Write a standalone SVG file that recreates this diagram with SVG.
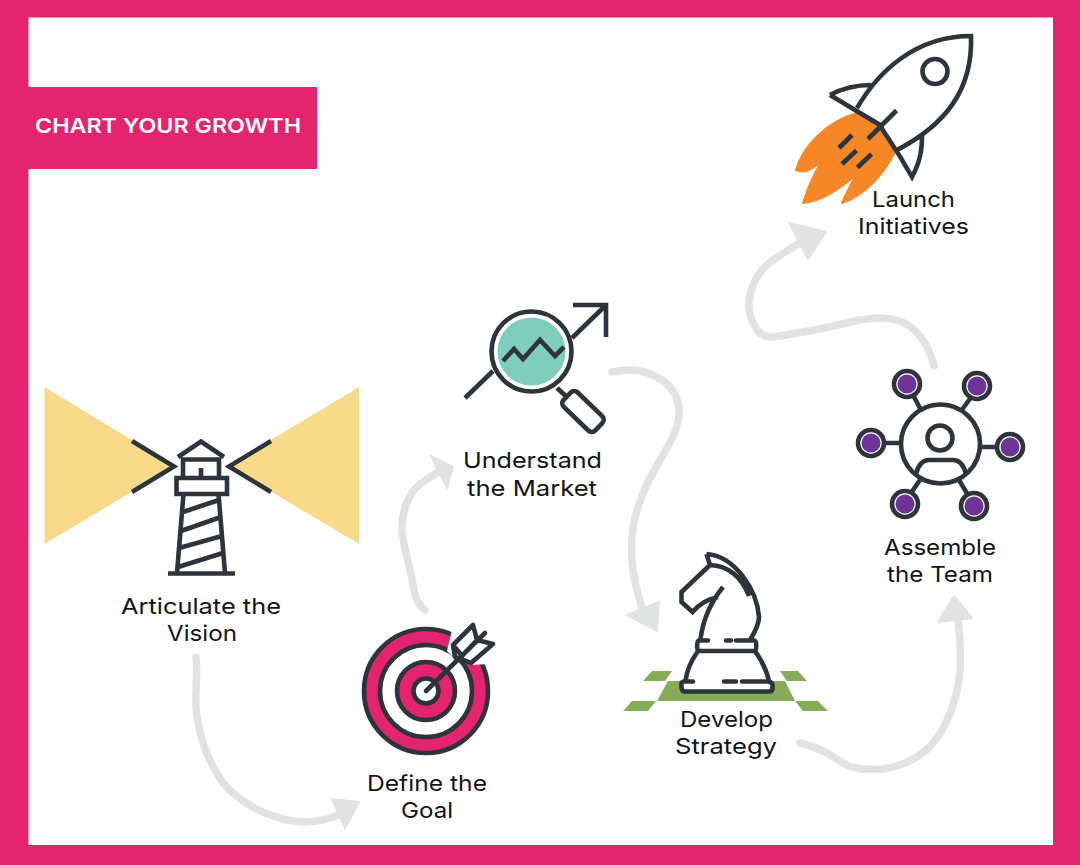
<svg xmlns="http://www.w3.org/2000/svg" width="1080" height="865" viewBox="0 0 1080 865">
<style>
.ic{fill:none;stroke:#2d343b;stroke-width:4.600;stroke-linejoin:miter;stroke-linecap:butt}
.rd{stroke-linecap:round;stroke-linejoin:round}
.lb{font-family:"Inter","Liberation Sans",sans-serif;font-size:22px;fill:#141416;text-anchor:middle}
.cn{fill:none;stroke:#e1e3e2;stroke-width:7.500;stroke-linecap:round;stroke-linejoin:round}
.hd{fill:#e1e3e2;stroke:#e1e3e2;stroke-width:2;stroke-linejoin:round}
.sat{fill:#6f3596}
.gr{fill:#85ad57}
</style>
<rect width="1080" height="865" fill="#e4246f"/>
<rect x="28.500" y="17.500" width="1024.500" height="827.500" fill="#fff"/>
<g id="title">
<rect x="0" y="87" width="317" height="82" fill="#e4246f"/>
<text x="168" y="133" font-family="Inter,'Liberation Sans',sans-serif" font-size="20.500" font-weight="600" fill="#fff" text-anchor="middle" textLength="266" lengthAdjust="spacingAndGlyphs">CHART YOUR GROWTH</text>
</g>
<g id="connectors">
<path class="cn" d="M196 657C198 672 195 692 196 707C197 725 204 756 223 783C238 801 268 820 303 822C316 822 328 820 340 814"/>
<path class="hd" d="M332 799L359 802L345 828Z"/>
<path class="cn" d="M425 610C418 604 415 598 413 585C411 570 404 550 402 532C401 515 407 498 415 489C423 481 431 476 442 470"/>
<path class="hd" d="M431 456L453 467L447 488Z"/>
<path class="cn" d="M612 372C625 369 640 369 653 375C670 383 680 396 679 415C678 430 669 445 660 460C651 476 643 490 637 510C632 527 631 545 632 560C633 577 637 592 642 608"/>
<path class="hd" d="M627 615L659 602L657 631Z"/>
<path class="cn" d="M800 743C812 746 820 749 827 753C836 758 842 764 852 767C868 771 885 770 900 765C920 758 935 745 945 725C953 708 959 690 960 670C961 652 960 635 958 620"/>
<path class="hd" d="M938 622L972 618L954 596Z"/>
<path class="cn" d="M934 366C930 350 923 335 908 325C893 316 875 317 855 321C835 326 800 333 773 337C762 338 755 330 751 318C746 303 750 285 762 270C772 259 785 252 800 243"/>
<path class="hd" d="M789 223L826 232L808 259Z"/>
</g>
<g id="vision">
<path d="M44.500 387L175 466L44.500 544Z" fill="#f8da8b"/>
<path d="M359 387L228 466L359 544Z" fill="#f8da8b"/>
<path class="ic" d="M132 441L174 466.500L132 492M271 441L229 466.500L271 492M178 457L201 441.500L224 457M183 459.500H219V478H183ZM201 468V478M176.500 478H227V494H176.500ZM183.500 494L177 573M218.500 494L225 573M168 573.500H235M183 512L219 500M181 531L221 517M179 548L222 536M178 567L223 553"/>
<text class="lb" x="201" y="614" textLength="160" lengthAdjust="spacingAndGlyphs">Articulate the</text>
<text class="lb" x="202" y="641" textLength="70" lengthAdjust="spacingAndGlyphs">Vision</text>
</g>
<g id="goal">
<circle cx="426" cy="691" r="62" fill="#e4246f" stroke="#2d343b" stroke-width="4.600"/>
<circle cx="426" cy="691" r="46" fill="#fff" stroke="#2d343b" stroke-width="4.600"/>
<path d="M452 630L447 651L455 659L470 665L490 664L500 645L480 615L458 620Z" fill="#fff"/>
<circle cx="426" cy="691" r="29" fill="#e4246f" stroke="#2d343b" stroke-width="4.600"/>
<circle cx="426" cy="691" r="12.500" fill="#fff" stroke="#2d343b" stroke-width="4.600"/>
<path class="ic rd" d="M426 691L485 633M453 645L473 625L477 640L462 656ZM453 645L455 657L471 663L493 644L477 640"/>
<text class="lb" x="427" y="791" textLength="120" lengthAdjust="spacingAndGlyphs">Define the</text>
<text class="lb" x="427" y="818" textLength="52" lengthAdjust="spacingAndGlyphs">Goal</text>
</g>
<g id="market">
<circle cx="531.500" cy="351.500" r="34" fill="#7fcdbb"/>
<circle class="ic" cx="531.500" cy="351.500" r="40"/>
<path class="ic" d="M465 398L493 371M572 338L606 305M573 305H606V337M503 361L514 349L523 359L540 340L555 356L564 347M557 388L568 398"/>
<rect class="ic" x="561" y="401.500" width="44" height="20" rx="5" transform="rotate(44 583 411.500)"/>
<text class="lb" x="532.500" y="468" textLength="139" lengthAdjust="spacingAndGlyphs">Understand</text>
<text class="lb" x="532" y="496" textLength="130" lengthAdjust="spacingAndGlyphs">the Market</text>
</g>
<g id="strategy">
<path class="gr" d="M668 681H785L795 701H657ZM652 671H672L665 681H643ZM780 671H798L807 681H787ZM632 701H656L648 711H623ZM795 701H818L828 711H803Z"/>
<path d="M685 681.500C687 668 693 658 698 651H755C760 658 766 668 769 681.500H771L772.500 691.500H681.500L683 681.500Z" fill="#fff"/>
<path class="ic" d="M706.500 554C735 556 757 590 759 617C759 625 755 632 750 640M700.500 639C703 620 710 603 723 587M718 597C708 599 700 603 692.500 612L681.500 602V592L710 565L706.500 554M710 565C730 566 742 578 749 596"/>
<path class="ic rd" d="M708 640.500H699C696.500 640.500 696.500 651 699 651H754C757 651 757 640.500 754 640.500H736M726 640.500H731M685.500 681C687 668 693 658 698 651M769 681C766 668 760 658 755 651"/>
<path class="ic rd" d="M693 681.500H684Q681 681.500 681.500 685V688Q682 691.500 685 691.500H769Q772.500 691.500 772.500 688V685Q772 681.500 767 681.500H742M736 681.500H724"/>
<text class="lb" x="726.500" y="727" textLength="93" lengthAdjust="spacingAndGlyphs">Develop</text>
<text class="lb" x="726" y="754" textLength="102" lengthAdjust="spacingAndGlyphs">Strategy</text>
</g>
<g id="team">
<circle class="ic" cx="940.500" cy="444" r="39.500"/>
<circle class="ic" cx="940" cy="438" r="12.500"/>
<path class="ic" d="M916 474C918 466 922 460 929 460H953C960 460 964 466 966 474"/>
<path class="ic" d="M913 395L921 410M972 396L961 411M884 443H901M980 447H997M920 480L911 493M959 480L968 495"/>
<g class="ic"><circle cx="907" cy="384" r="13"/><circle cx="977" cy="386" r="13"/><circle cx="871" cy="443" r="13"/><circle cx="1010" cy="447" r="13"/><circle cx="905" cy="504" r="13"/><circle cx="974" cy="506" r="13"/></g>
<circle class="sat" cx="907" cy="384" r="9.500"/><circle class="sat" cx="977" cy="386" r="9.500"/><circle class="sat" cx="871" cy="443" r="9.500"/><circle class="sat" cx="1010" cy="447" r="9.500"/><circle class="sat" cx="905" cy="504" r="9.500"/><circle class="sat" cx="974" cy="506" r="9.500"/>
<text class="lb" x="940" y="555" textLength="112" lengthAdjust="spacingAndGlyphs">Assemble</text>
<text class="lb" x="940" y="582" textLength="106" lengthAdjust="spacingAndGlyphs">the Team</text>
</g>
<g id="launch">
<path d="M857 113C825 122 802 148 796 170C805 174 815 168 823 159C813 175 807 190 803 203C822 201 838 190 856 175C850 186 845 196 842 203C866 195 885 172 895 152L880 125Z" fill="#f68726" stroke="#f68726" stroke-width="2" stroke-linejoin="round"/>
<path class="ic" d="M857 108C878 72 915 36 971 36C973 90 945 125 897 150M830 95L880 125C885 135 893 143 912 177C921 160 922 148 922 136M830 95C845 87 860 85 871 85"/>
<circle class="ic" cx="935" cy="71.500" r="12.500"/>
<path class="ic" d="M896.500 110.500L868 139M852 135L839 148M856.500 150.500L842 164M871.500 154L857.500 167.500"/>
<text class="lb" x="913.500" y="207" textLength="83" lengthAdjust="spacingAndGlyphs">Launch</text>
<text class="lb" x="913.500" y="234" textLength="111" lengthAdjust="spacingAndGlyphs">Initiatives</text>
</g>
</svg>
